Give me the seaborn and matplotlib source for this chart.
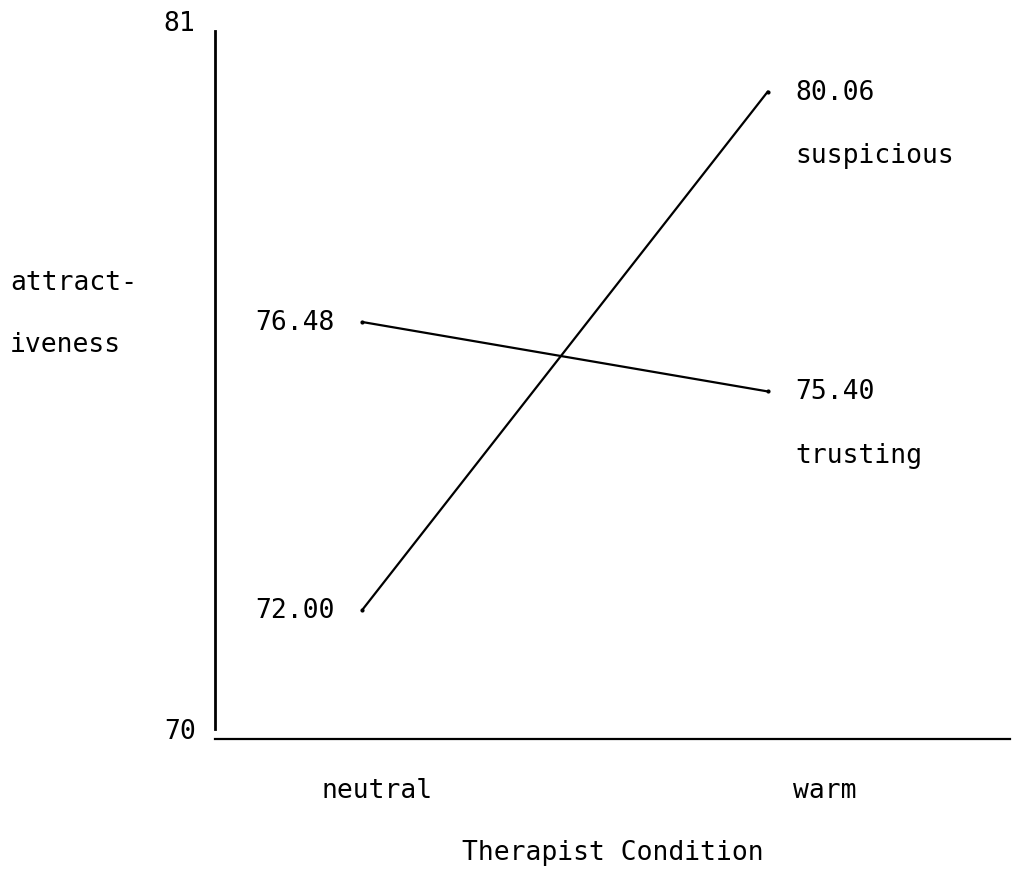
import numpy as np
import pandas as pd
import matplotlib
matplotlib.use("Agg")
import matplotlib.pyplot as plt
import matplotlib.transforms as mtransforms
import seaborn as sns

conditions = ["neutral", "warm"]
groups = ["trusting", "suspicious"]
trusting = [76.48, 75.40]
suspicious = [72.00, 80.06]
y_ticks = [70, 81]

df = pd.DataFrame({
    "condition": conditions * 2,
    "score": trusting + suspicious,
    "group": [groups[0]] * 2 + [groups[1]] * 2,
})
df["x"] = df["condition"].map({c: i for i, c in enumerate(conditions)})

sns.set_theme(style="white")
plt.rcParams["font.family"] = ["DejaVu Sans Mono", "DejaVu Sans"]
plt.rcParams["text.color"] = "black"
plt.rcParams["axes.labelcolor"] = "black"
plt.rcParams["xtick.color"] = "black"
plt.rcParams["ytick.color"] = "black"
fs = 19

fig = plt.figure(figsize=(10.22, 8.7), dpi=100)
ax = fig.add_axes([0.2104, 0.1494, 0.7776, 0.8138])

sns.lineplot(data=df, x="x", y="score", units="group", estimator=None,
             color="black", linewidth=1.6, marker="o", markersize=3,
             markeredgewidth=0, ax=ax, legend=False)

ax.set_xlim(-0.362, 1.596)
ax.set_ylim(y_ticks[0], y_ticks[1])

for side in ["top", "right"]:
    ax.spines[side].set_visible(False)
ax.spines["left"].set_color("black")
ax.spines["bottom"].set_color("black")
ax.spines["left"].set_linewidth(2)
ax.spines["bottom"].set_linewidth(1.6)
ax.spines["left"].set_bounds(70.15, 81)

ax.set_yticks(y_ticks)
ax.set_yticklabels([str(t) for t in y_ticks], fontsize=fs)
ax.tick_params(axis="y", length=0, pad=14)
for lab in ax.get_yticklabels():
    lab.set_transform(lab.get_transform() +
                      mtransforms.ScaledTranslation(0, 8 / 72, fig.dpi_scale_trans))

ax.set_xticks(range(len(conditions)))
ax.set_xticklabels(conditions, fontsize=fs)
ax.tick_params(axis="x", length=0, pad=27)
shifts = [15, 57]
for lab, s in zip(ax.get_xticklabels(), shifts):
    lab.set_transform(lab.get_transform() +
                      mtransforms.ScaledTranslation(s / 100, 0, fig.dpi_scale_trans))

ax.set_xlabel("Therapist Condition", fontsize=fs, labelpad=26)
ax.set_ylabel("")

# value labels
for vals in [trusting, suspicious]:
    ax.annotate(f"{vals[0]:.2f}", (0, vals[0]), xytext=(-20, 0),
                textcoords="offset points", ha="right", va="center", fontsize=fs)
    ax.annotate(f"{vals[1]:.2f}", (1, vals[1]), xytext=(20, 0),
                textcoords="offset points", ha="left", va="center", fontsize=fs)
ax.annotate(groups[1], (1, suspicious[1]), xytext=(20, -46),
            textcoords="offset points", ha="left", va="center", fontsize=fs)
ax.annotate(groups[0], (1, trusting[1]), xytext=(20, -46),
            textcoords="offset points", ha="left", va="center", fontsize=fs)

fig.text(10 / 1022, 1 - 283 / 870, "attract-", fontsize=fs, ha="left", va="center")
fig.text(10 / 1022, 1 - 345 / 870, "iveness", fontsize=fs, ha="left", va="center")

fig.savefig("out.png", dpi=100)
